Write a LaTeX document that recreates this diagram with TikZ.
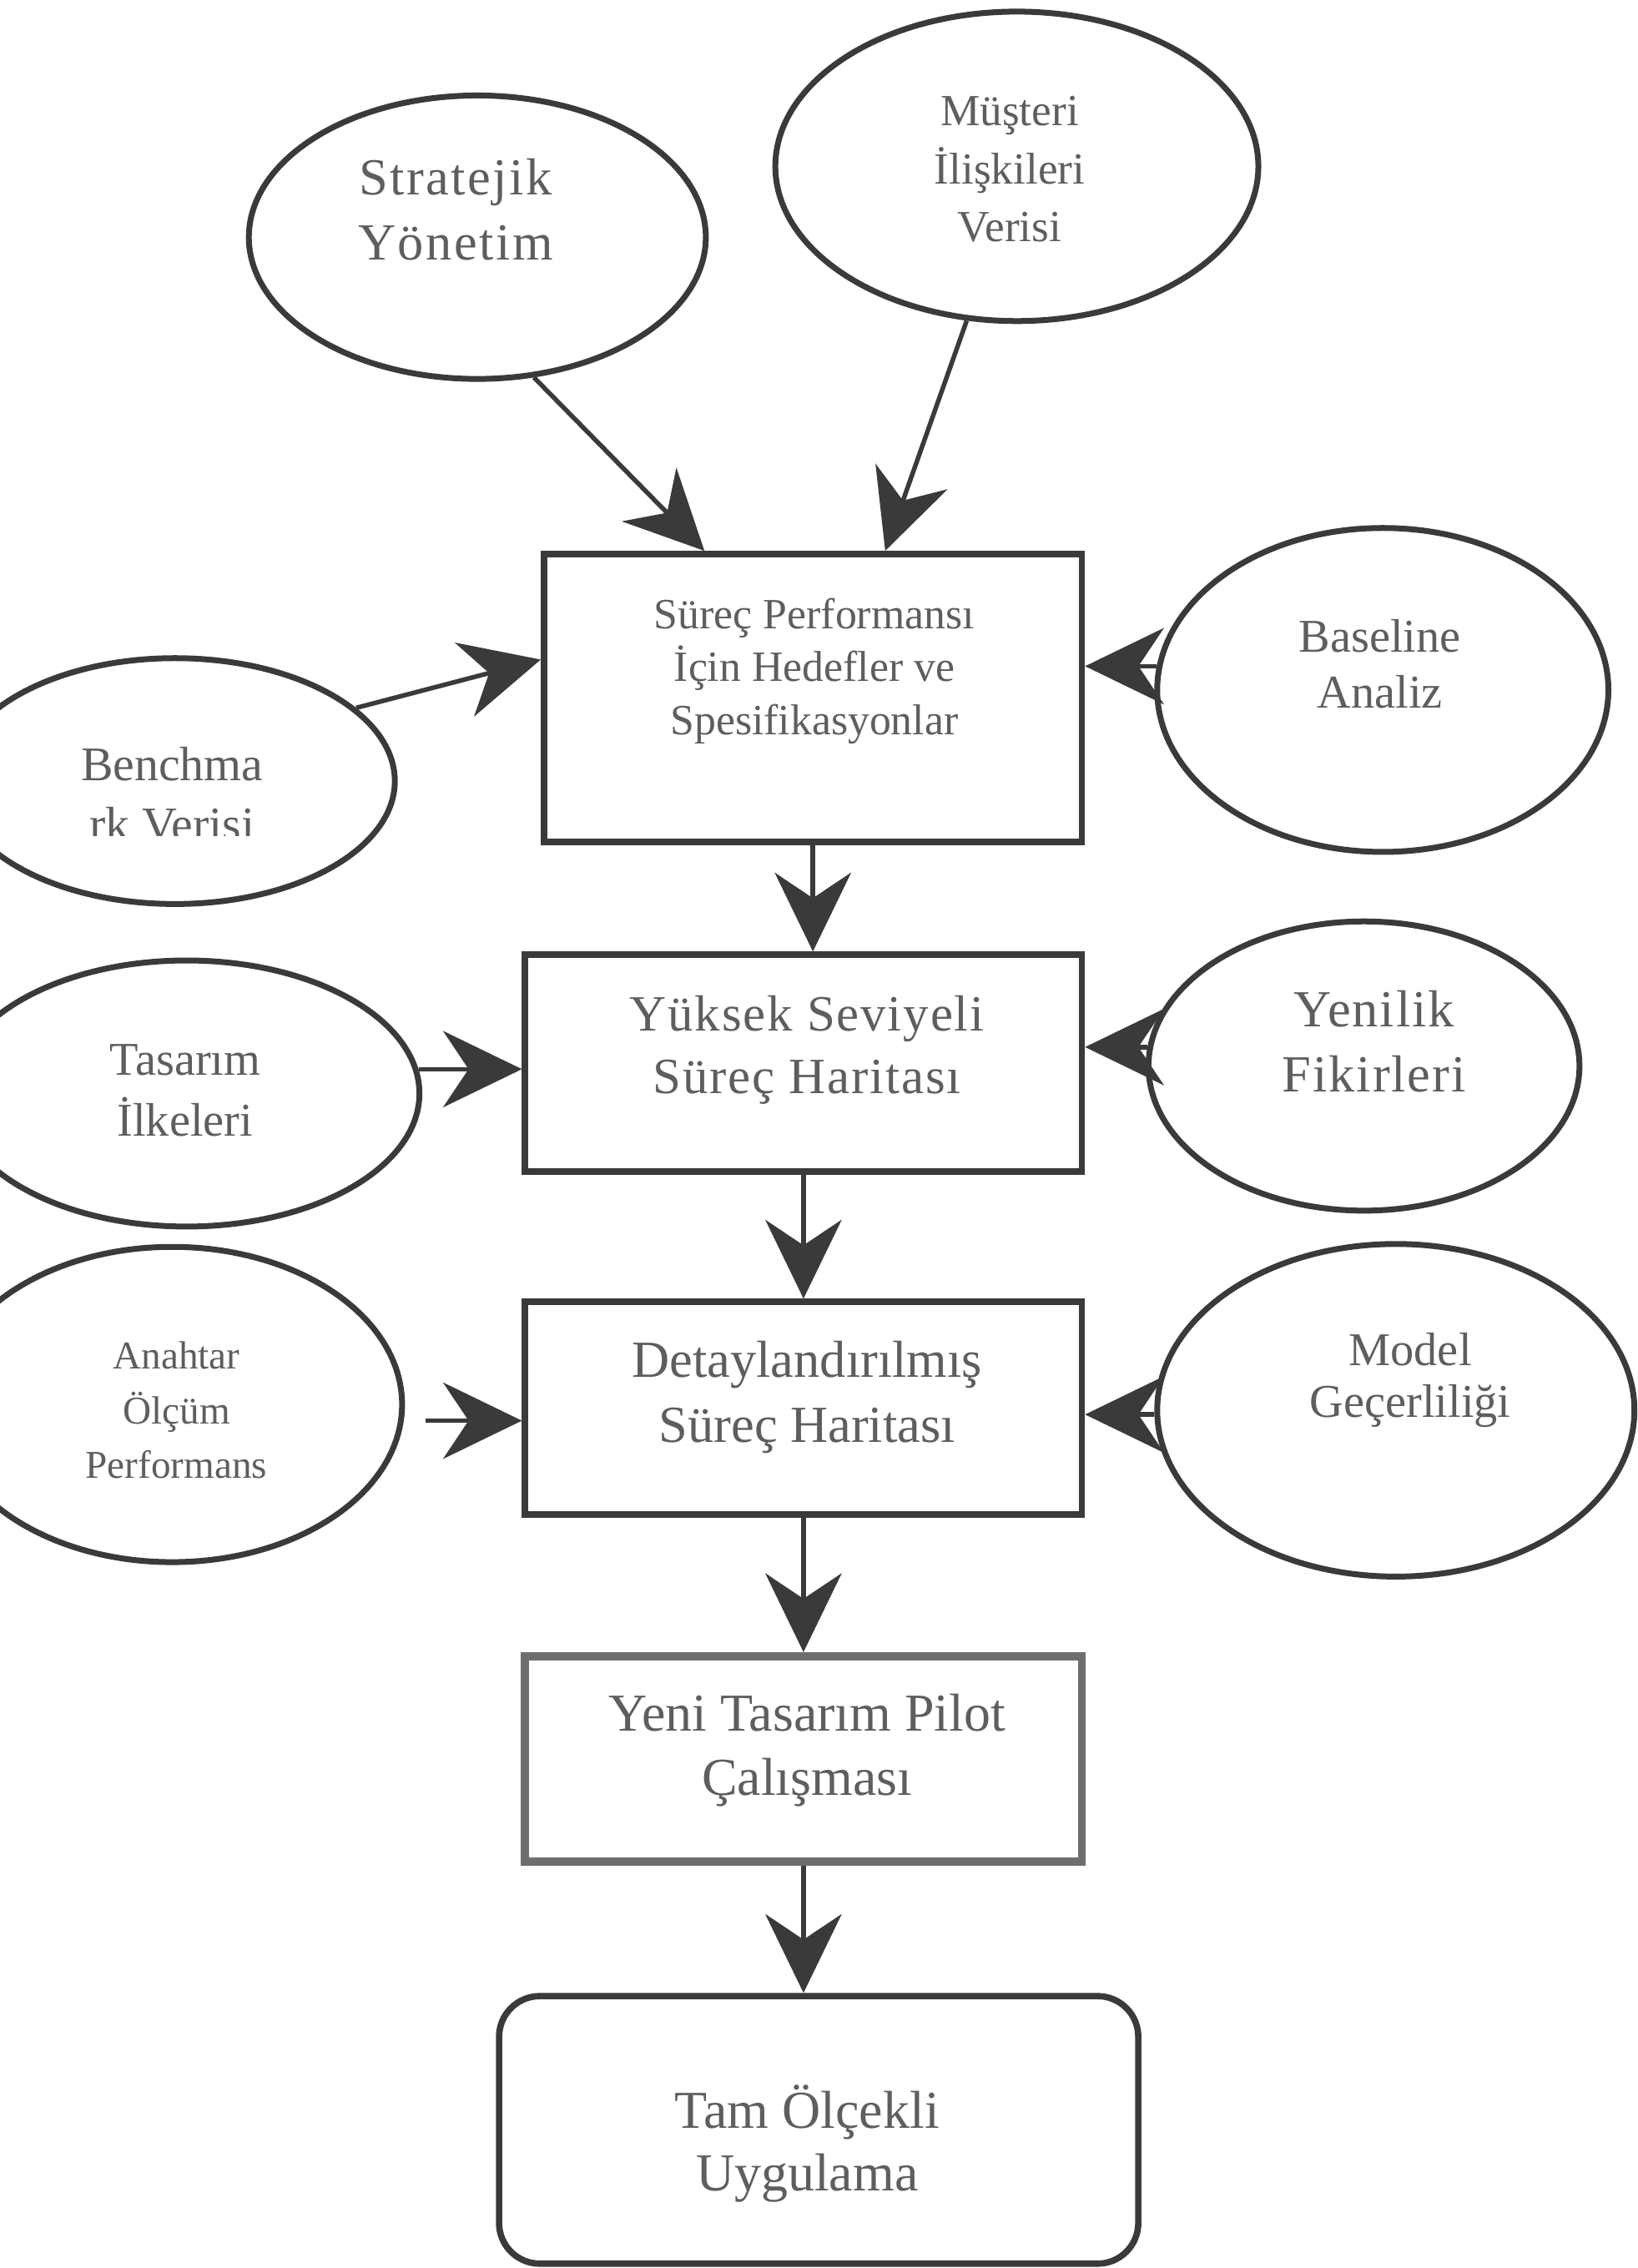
\documentclass[tikz,border=0pt]{standalone}
\usepackage{fontspec}
\setmainfont{Liberation Serif}
\usetikzlibrary{arrows.meta,shapes.geometric}
\definecolor{ink}{HTML}{3A3A3A}
\definecolor{txt}{HTML}{5E5E5E}
\definecolor{pilot}{HTML}{6E6E6E}
\newcommand{\tsize}[2]{\fontsize{#1}{#2}\selectfont}

\begin{document}
\begin{tikzpicture}[x=0.02cm,y=-0.02cm,
  oval/.style={draw=ink, line width=2.3pt, ellipse, inner sep=0pt},
  stepbox/.style={draw=ink, line width=2.5pt, rectangle, inner sep=0pt},
  txtnode/.style={text=txt, align=center, inner sep=0pt},
  feed/.style={draw=ink, line width=1.8pt, -{Stealth[length=31pt,width=30pt,inset=10pt]}},
]
\useasboundingbox (0,0) rectangle (1132,1568);
\clip (0,0) rectangle (1132,1568);

% input ovals
\node[oval, minimum width=6.32cm, minimum height=3.92cm] (strat) at (330,164) {};
\node[oval, minimum width=6.68cm, minimum height=4.28cm] (musteri) at (703,115) {};
\node[oval, minimum width=6.08cm, minimum height=3.40cm] (bench) at (121,540) {};
\node[oval, minimum width=6.24cm, minimum height=4.48cm] (base) at (956,477) {};
\node[oval, minimum width=6.44cm, minimum height=3.68cm] (ilke) at (129,756) {};
\node[oval, minimum width=5.96cm, minimum height=4.00cm] (yenilik) at (943,737) {};
\node[oval, minimum width=6.36cm, minimum height=4.36cm] (olcum) at (119,971) {};
\node[oval, minimum width=6.60cm, minimum height=4.60cm] (model) at (965,975) {};

% process steps
\node[stepbox, minimum width=7.44cm, minimum height=3.98cm] (hedef) at (562,482.5) {};
\node[stepbox, minimum width=7.70cm, minimum height=3.00cm] (yuksek) at (555.5,735) {};
\node[stepbox, minimum width=7.70cm, minimum height=2.94cm] (detay) at (555.5,973.5) {};
\node[stepbox, draw=pilot, line width=3.2pt, minimum width=7.70cm, minimum height=2.84cm] (pilotstep) at (555.5,1216) {};
\node[stepbox, rounded corners=16pt, minimum width=8.84cm, minimum height=3.70cm] (tam) at (566,1472.5) {};

% labels
\node[txtnode, font=\tsize{20.5}{25.5}\addfontfeatures{LetterSpace=4}] (tstrat) at (315,145) {Stratejik\\Yönetim};
\node[txtnode, font=\tsize{17.5}{22.7}] (tmusteri) at (698,117) {Müşteri\\İlişkileri\\Verisi};
\node[txtnode, font=\tsize{17}{21}] (thedef) at (563,464) {Süreç Performansı\\İçin Hedefler ve\\Spesifikasyonlar};
\begin{scope}
  \clip (0,400) rectangle (400,578);
  \node[txtnode, font=\tsize{19}{23.8}] (tbench) at (119,549) {Benchma\\rk Verisi};
\end{scope}
\node[txtnode, font=\tsize{18.5}{22}] (tbase) at (954,459) {Baseline\\Analiz};
\node[txtnode, font=\tsize{20}{24.4}\addfontfeatures{LetterSpace=3}] (tyuksek) at (558,726) {Yüksek Seviyeli\\Süreç Haritası};
\node[txtnode, font=\tsize{18.5}{23.8}] (tilke) at (128,754) {Tasarım\\İlkeleri};
\node[txtnode, font=\tsize{20.5}{25.5}\addfontfeatures{LetterSpace=3}] (tyenilik) at (950,720) {Yenilik\\Fikirleri};
\node[txtnode, font=\tsize{20.5}{25.5}] (tdetay) at (558,966) {Detaylandırılmış\\Süreç Haritası};
\node[txtnode, font=\tsize{15.5}{21.5}] (tolcum) at (122,975) {Anahtar\\Ölçüm\\Performans};
\node[txtnode, font=\tsize{18.5}{20.4}] (tmodel) at (975,954) {Model\\Geçerliliği};
\node[txtnode, font=\tsize{21}{25.5}] (tpilot) at (558,1210) {Yeni Tasarım Pilot\\Çalışması};
\node[txtnode, font=\tsize{21}{24.4}] (ttam) at (558,1482) {Tam Ölçekli\\Uygulama};

% connectors
\draw[feed] (strat.-68) -- ([xshift=-1.5cm]hedef.north);
\draw[feed] (musteri.-108) -- ([xshift=1.0cm]hedef.north);
\draw[feed] (bench.22) -- ([yshift=0.53cm]hedef.west);
\draw[feed] (base.174) -- (hedef.east |- base.174);
\draw[feed] (hedef.south) -- (hedef.south |- yuksek.north);
\draw[feed] (ilke.6) -- (yuksek.west |- ilke.6);
\draw[feed] (yenilik.175) -- (yuksek.east |- yenilik.175);
\draw[feed] (yuksek.south) -- (yuksek.south |- detay.north);
\draw[feed, shorten <=0.3cm] (olcum.-4) -- (detay.west |- olcum.-4);
\draw[feed] (model.181) -- (detay.east |- model.181);
\draw[feed] (detay.south) -- (detay.south |- pilotstep.north);
\draw[feed] (pilotstep.south) -- (pilotstep.south |- tam.north);
\end{tikzpicture}
\end{document}
